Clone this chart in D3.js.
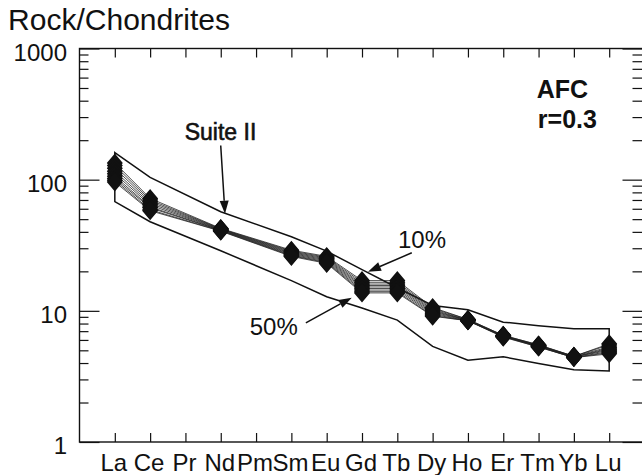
<!DOCTYPE html>
<html><head><meta charset="utf-8">
<script src="https://cdn.jsdelivr.net/npm/d3@7"></script>
<style>
body{margin:0;background:#fff}
svg{display:block}
text{font-family:"Liberation Sans",Arial,Helvetica,sans-serif;fill:#111}
</style>
</head><body>
<svg id="c" width="642" height="475"></svg>
<script>
// ---- data ----
const elements = ["La","Ce","Pr","Nd","Pm","Sm","Eu","Gd","Tb","Dy","Ho","Er","Tm","Yb","Lu"];
const yTickValues = [1, 10, 100, 1000];
const yTickLabels = ["1", "10", "100", "1000"];
const yMinorValues = [2,3,4,5,6,7,8,9,20,30,40,50,60,70,80,90,200,300,400,500,600,700,800,900];

// Suite II envelope
const suiteUpper = [161, 104, null, 57, null, 36.7, 28.5, 20.6, 15.0, 11.0, 10.2, 8.2, 7.7, 7.3, 7.3];
const suiteLower = [68, 47.8, null, 28.7, null, 17.0, 12.8, 10.5, 8.5, 5.36, 4.2, 4.46, 3.97, 3.55, 3.48];

// AFC model curves (r = 0.3), 10% ... 50%
const afc10 = [134, 72, null, 42.5, null, 29.0, 26.0, 17.0, 17.0, 10.6, 8.6, 6.5, 5.5, 4.5, 5.6];
const afc15 = [128, 70, null, 42.2, null, 28.6, 25.6, 16.5, 16.5, 10.4, 8.6, 6.5, 5.5, 4.5, 5.5];
const afc20 = [122, 68, null, 42.0, null, 28.2, 25.2, 16.0, 16.0, 10.2, 8.5, 6.45, 5.45, 4.5, 5.3];
const afc25 = [116, 66, null, 41.7, null, 27.8, 24.8, 15.6, 15.6, 10.0, 8.5, 6.45, 5.4, 4.45, 5.2];
const afc30 = [111, 64, null, 41.5, null, 27.4, 24.4, 15.2, 15.2, 9.8, 8.5, 6.4, 5.4, 4.45, 5.1];
const afc35 = [106, 62, null, 41.2, null, 27.0, 24.0, 14.8, 14.8, 9.6, 8.45, 6.4, 5.4, 4.45, 5.0];
const afc40 = [102, 61, null, 41.0, null, 26.6, 23.6, 14.4, 14.4, 9.4, 8.4, 6.4, 5.35, 4.4, 4.9];
const afc45 = [99, 59, null, 40.7, null, 26.3, 23.3, 14.0, 14.0, 9.2, 8.4, 6.35, 5.3, 4.4, 4.8];
const afc50 = [96, 58, null, 40.5, null, 26.0, 23.0, 13.7, 13.7, 9.1, 8.4, 6.3, 5.3, 4.4, 4.7];
const afcSeries = [afc10, afc15, afc20, afc25, afc30, afc35, afc40, afc45, afc50];

// annotations in data coordinates [element index, value]
const annotations = [
  {text: "Suite II", at: [1.98, 202], bold: false, heavy: true, size: 23},
  {text: "10%", at: [8.02, 30.3], bold: false, heavy: false, size: 24},
  {text: "50%", at: [3.82, 6.56], bold: false, heavy: false, size: 24},
  {text: "AFC", at: [11.95, 423], bold: true, heavy: false, size: 25},
  {text: "r=0.3", at: [11.98, 249], bold: true, heavy: false, size: 25}
];
const arrows = [
  {from: [3.0, 182], to: [3.12, 55]},
  {from: [8.41, 27.7], to: [7.17, 19.9]},
  {from: [5.41, 8.1], to: [6.71, 12.6]}
];

// ---- layout ----
const svg = d3.select("#c");
const pLeft = 79.5, pRight = 644.5, pTop = 48.5, pBottom = 442;
const x = d3.scaleLinear().domain([-1, 15]).range([pLeft, pRight]);
const y = d3.scaleLog().domain([1, 1000]).range([pBottom, pTop]);

// frame
svg.append("rect").attr("x",pLeft).attr("y",pTop).attr("width",pRight-pLeft).attr("height",pBottom-pTop)
  .attr("fill","none").attr("stroke","#111").attr("stroke-width",1.4);

// axes (ticks pointing inward)
const idx = d3.range(elements.length);
function styleAxis(g){ g.select(".domain").remove(); g.selectAll("line").attr("stroke","#111").attr("stroke-width",1.2); g.selectAll("text").remove(); }
svg.append("g").attr("transform",`translate(0,${pTop})`)
  .call(d3.axisBottom(x).tickValues(idx).tickSize(9)).call(styleAxis);
svg.append("g").attr("transform",`translate(0,${pBottom})`)
  .call(d3.axisTop(x).tickValues(idx).tickSize(9)).call(styleAxis);
svg.append("g").attr("transform",`translate(${pLeft},0)`)
  .call(d3.axisRight(y).tickValues(yTickValues).tickSize(20)).call(styleAxis);
svg.append("g").attr("transform",`translate(${pLeft},0)`)
  .call(d3.axisRight(y).tickValues(yMinorValues).tickSize(9)).call(styleAxis);
svg.append("g").attr("transform",`translate(${pRight-2},0)`)
  .call(d3.axisLeft(y).tickValues(yTickValues).tickSize(20)).call(styleAxis);
svg.append("g").attr("transform",`translate(${pRight-2},0)`)
  .call(d3.axisLeft(y).tickValues(yMinorValues).tickSize(10)).call(styleAxis);

// tick labels
svg.append("g").selectAll("text").data(yTickValues).join("text")
  .attr("x", 67).attr("y", d => y(d) + 12)
  .attr("text-anchor","end").attr("font-size",24)
  .text((d,i) => yTickLabels[i]);
svg.append("g").selectAll("text").data(elements).join("text")
  .attr("x", (d,i) => x(i) - 1).attr("y", 471)
  .attr("text-anchor","middle").attr("font-size",24)
  .text(d => d);

// title
svg.append("text").attr("x",8).attr("y",30).attr("font-size",30)
  .attr("textLength",222).attr("lengthAdjust","spacingAndGlyphs")
  .text("Rock/Chondrites");

// envelope
const pts = arr => arr.map((v,i)=>[i,v]).filter(d=>d[1]!=null);
const envPts = pts(suiteUpper).concat(pts(suiteLower).reverse());
svg.append("path")
  .attr("d", d3.line().x(d=>x(d[0])).y(d=>y(d[1]))(envPts) + "Z")
  .attr("fill","none").attr("stroke","#111").attr("stroke-width",1.5);

// model lines
const line = d3.line().x(d=>x(d[0])).y(d=>y(d[1]));
svg.append("g").selectAll("path").data(afcSeries).join("path")
  .attr("d", s => line(pts(s)))
  .attr("fill","none").attr("stroke","#222").attr("stroke-width",0.8);

// markers
const markerPath = "M0,-9.5L8,0L0,9.5L-8,0Z M6,0A6,6 0 1,1 -6,0A6,6 0 1,1 6,0Z";
const mg = svg.append("g");
afcSeries.forEach(s => {
  mg.append("g").selectAll("path").data(pts(s)).join("path")
    .attr("transform", d => `translate(${x(d[0])},${y(d[1])})`)
    .attr("d", markerPath).attr("fill","#111");
});

// annotations
svg.append("g").selectAll("text").data(annotations).join("text")
  .attr("x", d => x(d.at[0])).attr("y", d => y(d.at[1]))
  .attr("font-size", d => d.size).attr("font-weight", d => d.bold ? "bold" : "normal")
  .attr("stroke", d => d.heavy ? "#111" : "none").attr("stroke-width", d => d.heavy ? 0.6 : 0)
  .text(d => d.text);

const ag = svg.append("g");
arrows.forEach(a => {
  const x1 = x(a.from[0]), y1 = y(a.from[1]), x2 = x(a.to[0]), y2 = y(a.to[1]);
  const ang = Math.atan2(y2-y1, x2-x1), L = 13, W = 4.5;
  const bx = x2 - L*Math.cos(ang), by = y2 - L*Math.sin(ang);
  ag.append("line").attr("x1",x1).attr("y1",y1).attr("x2",bx).attr("y2",by)
    .attr("stroke","#111").attr("stroke-width",1.5);
  ag.append("path").attr("d", `M${x2},${y2}L${bx - W*Math.sin(ang)},${by + W*Math.cos(ang)}L${bx + W*Math.sin(ang)},${by - W*Math.cos(ang)}Z`)
    .attr("fill","#111");
});
</script>
</body></html>
